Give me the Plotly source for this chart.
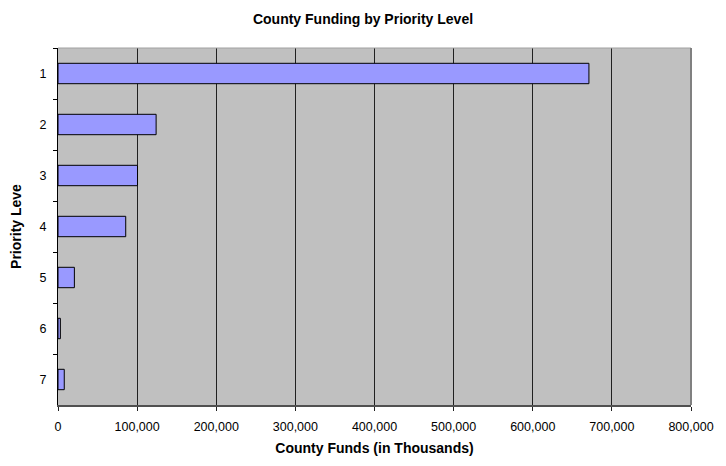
import plotly.graph_objects as go

categories = ["1", "2", "3", "4", "5", "6", "7"]
funds = [671000, 124000, 100500, 85600, 20700, 3000, 7900]
x_ticks = [0, 100000, 200000, 300000, 400000, 500000, 600000, 700000, 800000]

fig = go.Figure()
fig.add_trace(go.Bar(
    x=funds, y=categories, orientation="h", width=0.4,
    marker=dict(color="#9999FF", line=dict(color="#000000", width=1)),
))

font_family = "Liberation Sans, Arial, sans-serif"
fig.update_layout(
    width=726, height=466,
    margin=dict(l=58, r=22, t=48, b=54),
    paper_bgcolor="white", plot_bgcolor="#C0C0C0",
    showlegend=False,
    font=dict(family=font_family, size=12.5, color="#000000"),
    title=dict(text="<b>County Funding by Priority Level</b>", x=0.5, xanchor="center",
               y=1 - 19 / 466, yanchor="middle", yref="container",
               font=dict(size=14, family=font_family, color="#000000")),
    xaxis=dict(range=[0, 800000], tickvals=x_ticks, tickformat=",", showgrid=True,
               gridcolor="#202020", gridwidth=1, zeroline=False,
               showline=True, linecolor="#505050", linewidth=2,
               ticks="outside", ticklen=4, tickcolor="#202020",
               ticklabelstandoff=5, ticklabeloverflow="allow",
               title=dict(text="<b>County Funds (in Thousands)</b>", standoff=10,
                          font=dict(size=14, family=font_family))),
    yaxis=dict(type="category", autorange="reversed", showgrid=False, zeroline=False,
               showline=True, linecolor="#000000", linewidth=1,
               ticks="outside", tickson="boundaries", ticklen=4, tickcolor="#000000",
               ticklabelstandoff=8,
               title=dict(text="<b>Priority Leve</b>", standoff=14,
                          font=dict(size=14, family=font_family))),
    bargap=0.6,
)
fig.add_shape(type="line", xref="paper", yref="paper", x0=0, x1=1, y0=1, y1=1,
              line=dict(color="#A0A0A0", width=1))
fig.add_shape(type="line", xref="paper", yref="paper", x0=1, x1=1, y0=0, y1=1,
              line=dict(color="#808080", width=2))

fig.write_html("out.html")
